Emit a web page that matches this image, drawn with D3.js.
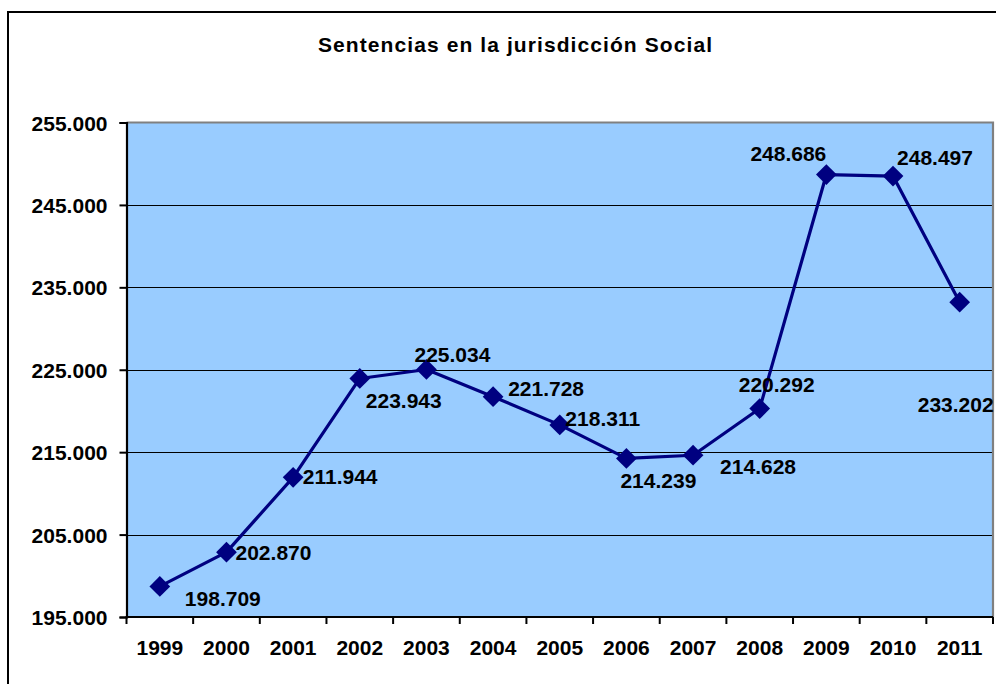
<!DOCTYPE html>
<html>
<head>
<meta charset="utf-8">
<script src="https://cdn.jsdelivr.net/npm/d3@7"></script>
<style>
  html, body { margin: 0; padding: 0; background: #ffffff; overflow: hidden; }
  svg { display: block; }
  text { font-family: "Liberation Sans", Arial, sans-serif; font-weight: bold; fill: #000; }
</style>
</head>
<body>
<svg id="chart" width="996" height="684"></svg>
<script>
// Sentencias dictadas en la jurisdicción Social, 1999-2011
const years = ["1999", "2000", "2001", "2002", "2003", "2004", "2005",
               "2006", "2007", "2008", "2009", "2010", "2011"];
const sentencias = [198709, 202870, 211944, 223943, 225034, 221728, 218311,
                    214239, 214628, 220292, 248686, 248497, 233202];
const yTicks = [195000, 205000, 215000, 225000, 235000, 245000, 255000];
const title = "Sentencias en la jurisdicción Social";

// label placement relative to each point (centre of the text)
const labelOffsets = [
  [63, 12], [47, 0], [47, -1], [44, 22], [26, -15], [53, -8], [43, -6],
  [32, 22], [65, 11], [17, -24], [-38, -21], [42, -19], [-4, 102]
];

const esLocale = d3.formatLocale({ decimal: ",", thousands: ".", grouping: [3], currency: ["", " €"] });
const fmt = esLocale.format(",.0f");
const fmtTick = v => esLocale.format(",.3f")(v / 1000).replace(/,/g, "#").replace(/\./g, ",").replace("#", ".");

const svg = d3.select("#chart");

const plot = { left: 126.5, right: 993, top: 122.5, bottom: 617 };

const x = d3.scaleBand().domain(years).range([plot.left, plot.right]).padding(0);
const y = d3.scaleLinear().domain([195000, 255000]).range([plot.bottom, plot.top]);

// chart frame
svg.append("rect")
  .attr("x", 8).attr("y", 12).attr("width", 1100).attr("height", 800)
  .attr("fill", "#ffffff").attr("stroke", "#000").attr("stroke-width", 2);

// title
svg.append("text")
  .attr("x", 515).attr("y", 52)
  .attr("text-anchor", "middle")
  .attr("font-size", 21)
  .attr("textLength", 394).attr("lengthAdjust", "spacing")
  .text(title);

// plot background
svg.append("rect")
  .attr("x", plot.left).attr("y", plot.top)
  .attr("width", plot.right - plot.left).attr("height", plot.bottom - plot.top)
  .attr("fill", "#99CCFF");

// horizontal gridlines
svg.append("g")
  .selectAll("line")
  .data(yTicks.slice(1, -1))
  .join("line")
  .attr("x1", plot.left).attr("x2", plot.right)
  .attr("y1", d => Math.round(y(d)) + 0.5).attr("y2", d => Math.round(y(d)) + 0.5)
  .attr("stroke", "#000").attr("stroke-width", 1.2);

// grey plot border top / right
svg.append("path")
  .attr("d", `M${plot.left},${plot.top} H${plot.right} V${plot.bottom}`)
  .attr("fill", "none").attr("stroke", "#808080").attr("stroke-width", 2.2);

// y axis
const yAxis = svg.append("g")
  .attr("transform", `translate(${plot.left},0)`)
  .call(d3.axisLeft(y).tickValues(yTicks).tickSize(7).tickPadding(12)
        .tickFormat(v => fmt(v)));
yAxis.select(".domain").attr("stroke", "#000").attr("stroke-width", 2.2);
yAxis.selectAll(".tick line").attr("stroke", "#000").attr("stroke-width", 2);
yAxis.selectAll(".tick text")
  .attr("font-size", 21).attr("font-family", "Liberation Sans, Arial, sans-serif")
  .attr("font-weight", "bold").attr("fill", "#000")
  .attr("dy", "0.36em");

// x axis: labels centred in each category, ticks on category boundaries
const xAxis = svg.append("g")
  .attr("transform", `translate(0,${plot.bottom})`)
  .call(d3.axisBottom(x).tickSize(0).tickPadding(0));
xAxis.select(".domain").remove();
xAxis.selectAll(".tick text")
  .attr("font-size", 21).attr("font-family", "Liberation Sans, Arial, sans-serif")
  .attr("font-weight", "bold").attr("fill", "#000")
  .attr("y", 38).attr("dy", 0);

const boundaries = years.map(d => x(d)).concat([x(years[years.length - 1]) + x.bandwidth()]);
svg.append("g")
  .selectAll("line")
  .data(boundaries)
  .join("line")
  .attr("x1", d => d).attr("x2", d => d)
  .attr("y1", plot.bottom).attr("y2", plot.bottom + 7)
  .attr("stroke", "#000").attr("stroke-width", 2);
svg.append("line")
  .attr("x1", plot.left - 1).attr("x2", plot.right)
  .attr("y1", plot.bottom).attr("y2", plot.bottom)
  .attr("stroke", "#000").attr("stroke-width", 2.2);

// series
const cx = (d, i) => x(years[i]) + x.bandwidth() / 2;
const points = sentencias.map((v, i) => [cx(v, i), y(v)]);

svg.append("path")
  .datum(points)
  .attr("d", d3.line())
  .attr("fill", "none")
  .attr("stroke", "#000080")
  .attr("stroke-width", 3.2)
  .attr("stroke-linejoin", "round");

svg.append("g")
  .selectAll("path")
  .data(points)
  .join("path")
  .attr("d", d3.symbol(d3.symbolSquare, 215))
  .attr("transform", d => `translate(${d[0]},${d[1]}) rotate(45)`)
  .attr("fill", "#000080");

// value labels
svg.append("g")
  .selectAll("text")
  .data(sentencias)
  .join("text")
  .attr("x", (d, i) => points[i][0] + labelOffsets[i][0])
  .attr("y", (d, i) => points[i][1] + labelOffsets[i][1])
  .attr("dy", "0.36em")
  .attr("text-anchor", "middle")
  .attr("font-size", 21)
  .text(d => fmt(d));
</script>
</body>
</html>
